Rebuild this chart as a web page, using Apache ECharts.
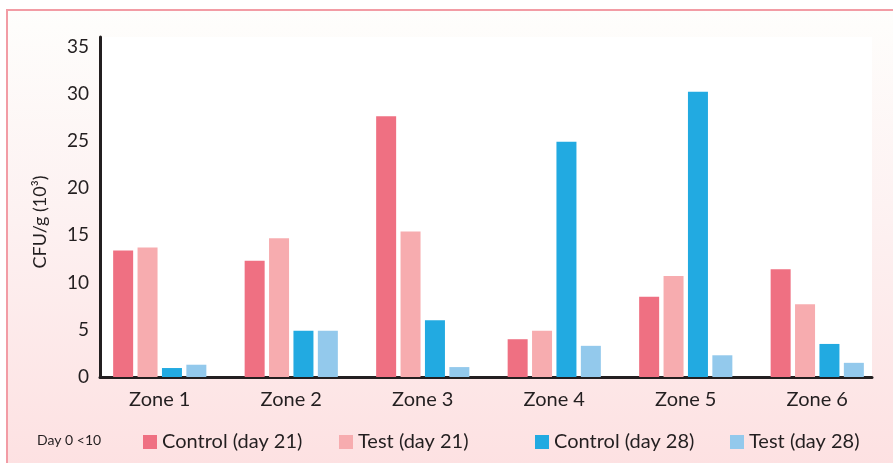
<!DOCTYPE html>
<html>
<head>
<meta charset="utf-8">
<script src="https://cdn.jsdelivr.net/npm/echarts@6/dist/echarts.min.js"></script>
<style>
  html, body { margin: 0; padding: 0; background: #fff; }
  #chart { width: 893px; height: 463px; }
</style>
</head>
<body>
<div id="chart"></div>
<script>
// Zones sampled and colony counts (CFU/g, x10^3)
const zones = ['Zone 1', 'Zone 2', 'Zone 3', 'Zone 4', 'Zone 5', 'Zone 6'];
const controlDay21 = [13.4, 12.3, 27.6, 4.0, 8.5, 11.4];
const testDay21 = [13.7, 14.7, 15.4, 4.9, 10.7, 7.7];
const controlDay28 = [0.95, 4.9, 6.0, 24.9, 30.2, 3.5];
const testDay28 = [1.3, 4.9, 1.05, 3.3, 2.3, 1.5];
const seriesNames = ['Control (day 21)', 'Test (day 21)', 'Control (day 28)', 'Test (day 28)'];
const seriesColors = ['#ef7082', '#f7acaf', '#22aae1', '#93c9ec'];
const baselineNote = 'Day 0 <10';

const FONT = 'Lato';
const INK = '#231f20';

const chart = echarts.init(document.getElementById('chart'), null, { renderer: 'canvas' });

const values = [controlDay21, testDay21, controlDay28, testDay28];
const legendLefts = [138, 334, 530, 725];

const option = {
  animation: false,
  backgroundColor: '#ffffff',
  textStyle: { fontFamily: FONT, color: INK },
  graphic: [{
    type: 'rect',
    z: -100,
    silent: true,
    shape: { x: 7, y: 10, width: 900, height: 470 },
    style: {
      fill: new echarts.graphic.LinearGradient(0, 0, 0, 1, [
        { offset: 0, color: '#fefefc' },
        { offset: 0.45, color: '#fdf1f1' },
        { offset: 1, color: '#fde0e1' }
      ]),
      stroke: '#f29ca5',
      lineWidth: 2
    }
  }],
  title: {
    text: baselineNote,
    left: 32,
    top: 428,
    textStyle: { fontFamily: FONT, fontSize: 14, fontWeight: 'normal', color: INK }
  },
  legend: seriesNames.map((name, i) => ({
    data: [name],
    left: legendLefts[i],
    top: 427,
    itemWidth: 14,
    itemHeight: 14,
    itemGap: 0,
    icon: 'rect',
    textStyle: { fontFamily: FONT, fontSize: 20, color: INK }
  })),
  grid: [
    { left: 94, right: 10, top: 37, bottom: 86 },
    { left: 100, right: 21, top: 37, bottom: 86, show: true, backgroundColor: '#ffffff', borderWidth: 0 }
  ],
  xAxis: [
    {
      type: 'category',
      gridIndex: 0,
      data: zones,
      axisLine: { show: false },
      axisTick: { show: false },
      axisLabel: { fontFamily: FONT, fontSize: 20, color: INK, margin: 13 }
    },
    {
      type: 'category',
      gridIndex: 1,
      data: zones,
      axisLine: { show: true, lineStyle: { color: INK, width: 3 } },
      axisTick: { show: false },
      axisLabel: { show: false }
    }
  ],
  yAxis: [
    {
      type: 'value',
      gridIndex: 0,
      min: 0,
      max: 36,
      interval: 5,
      offset: -6,
      name: 'CFU/g (10³)',
      nameLocation: 'middle',
      nameRotate: 90,
      nameGap: 51,
      nameTextStyle: { fontFamily: FONT, fontSize: 18, color: INK, padding: [0, 30, 0, 0] },
      axisLine: { show: true, lineStyle: { color: INK, width: 3 } },
      axisTick: { show: false },
      splitLine: { show: false },
      axisLabel: {
        fontFamily: FONT, fontSize: 19, color: INK, margin: 11,
        showMaxLabel: false
      }
    },
    {
      type: 'value',
      gridIndex: 1,
      min: 0,
      max: 36,
      show: false
    }
  ],
  series: seriesNames.map((name, i) => ({
    name: name,
    type: 'bar',
    xAxisIndex: 0,
    yAxisIndex: 0,
    data: values[i],
    barWidth: 20,
    barGap: '22%',
    itemStyle: { color: seriesColors[i] },
    z: 3
  }))
};

chart.setOption(option);
</script>
</body>
</html>
